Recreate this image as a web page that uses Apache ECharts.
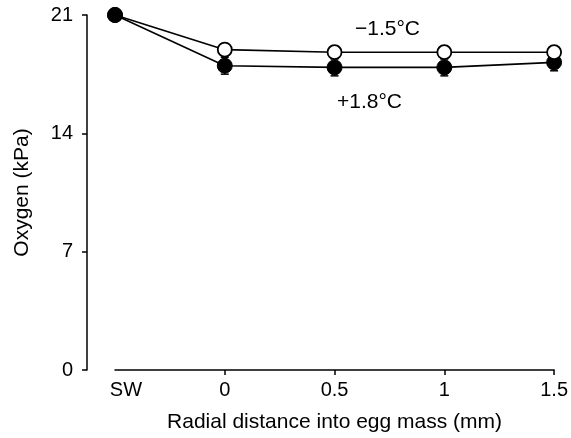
<!DOCTYPE html>
<html>
<head>
<meta charset="utf-8">
<script src="https://cdn.jsdelivr.net/npm/echarts@6/dist/echarts.min.js"></script>
<style>
  html, body { margin: 0; padding: 0; background: #fff; }
  #chart { width: 571px; height: 438px; }
</style>
</head>
<body>
<div id="chart"></div>
<script>
// positions along the radial axis (mm); SW (sea water) sits left of 0
var xPos = [-0.5, 0, 0.5, 1, 1.5];
// tick labels of the x axis (value, text)
var xTickValues = [-0.45, 0, 0.5, 1, 1.5];
var xTickText = ['SW', '0', '0.5', '1', '1.5'];

// oxygen (kPa)
var coldMean = [21.0, 18.95, 18.8, 18.8, 18.8];  // -1.5°C, open circles
var coldErr = [0.0, 0.35, 0.35, 0.35, 0.35];
var warmMean = [21.0, 18.0, 17.9, 17.9, 18.2];   // +1.8°C, filled circles
var warmErr = [0.0, 0.5, 0.5, 0.5, 0.5];

var font = 'Liberation Sans, Arial, sans-serif';
var chart = echarts.init(document.getElementById('chart'));

function pairs(means) {
  return means.map(function (m, i) { return [xPos[i], m]; });
}
function errBars(means, errs) {
  return means.map(function (m, i) { return [xPos[i], m - errs[i], m + errs[i]]; });
}
function renderErr(params, api) {
  var lo = api.coord([api.value(0), api.value(1)]);
  var hi = api.coord([api.value(0), api.value(2)]);
  var w = 4;
  var st = { stroke: '#000', lineWidth: 1.5 };
  return {
    type: 'group',
    children: [
      { type: 'line', shape: { x1: lo[0], y1: lo[1], x2: hi[0], y2: hi[1] }, style: st },
      { type: 'line', shape: { x1: lo[0] - w, y1: lo[1], x2: lo[0] + w, y2: lo[1] }, style: st },
      { type: 'line', shape: { x1: hi[0] - w, y1: hi[1], x2: hi[0] + w, y2: hi[1] }, style: st }
    ]
  };
}

var coldData = pairs(coldMean);
// at SW both readings coincide and the filled marker shows
coldData[0] = { value: coldData[0], itemStyle: { color: '#000' } };

var option = {
  backgroundColor: '#fff',
  animation: false,
  grid: { left: 115, right: 16, top: 15, bottom: 65 },
  xAxis: {
    type: 'value',
    min: -0.5,
    max: 1.5,
    interval: 0.5,
    name: 'Radial distance into egg mass (mm)',
    nameLocation: 'middle',
    nameGap: 42,
    nameTextStyle: { color: '#000', fontSize: 21, fontFamily: font },
    axisLine: { onZero: false, lineStyle: { color: '#000', width: 1.5 } },
    axisTick: { customValues: [0, 0.5, 1, 1.5], length: 5, lineStyle: { color: '#000', width: 1.5 } },
    axisLabel: {
      customValues: xTickValues,
      formatter: function (v) { return xTickText[xTickValues.indexOf(v)]; },
      color: '#000', fontSize: 20, fontFamily: font, margin: 10
    },
    splitLine: { show: false }
  },
  yAxis: {
    type: 'value',
    min: 0,
    max: 21,
    interval: 7,
    offset: 28,
    name: 'Oxygen (kPa)',
    nameLocation: 'middle',
    nameGap: 54,
    nameTextStyle: { color: '#000', fontSize: 21, fontFamily: font },
    axisLine: { show: true, onZero: false, lineStyle: { color: '#000', width: 1.5 } },
    axisTick: { show: true, length: 5, lineStyle: { color: '#000', width: 1.5 } },
    axisLabel: { color: '#000', fontSize: 20, fontFamily: font, margin: 14 },
    splitLine: { show: false }
  },
  graphic: [
    { type: 'text', left: 355, top: 19, style: { text: '\u22121.5\u00b0C', font: '21px ' + font, fill: '#000' } },
    { type: 'text', left: 337, top: 92, style: { text: '+1.8\u00b0C', font: '21px ' + font, fill: '#000' } }
  ],
  series: [
    {
      type: 'custom',
      data: errBars(warmMean, warmErr),
      renderItem: renderErr,
      clip: false,
      z: 1
    },
    {
      type: 'custom',
      data: errBars(coldMean, coldErr),
      renderItem: renderErr,
      clip: false,
      z: 1
    },
    {
      name: '+1.8\u00b0C',
      type: 'line',
      data: pairs(warmMean),
      symbol: 'circle',
      symbolSize: 15,
      showAllSymbol: true,
      clip: false,
      lineStyle: { color: '#000', width: 1.6 },
      itemStyle: { color: '#000', borderColor: '#000', borderWidth: 1 },
      z: 2
    },
    {
      name: '\u22121.5\u00b0C',
      type: 'line',
      data: coldData,
      symbol: 'circle',
      symbolSize: 14,
      showAllSymbol: true,
      clip: false,
      lineStyle: { color: '#000', width: 1.6 },
      itemStyle: { color: '#fff', borderColor: '#000', borderWidth: 1.8 },
      z: 3
    }
  ]
};
chart.setOption(option);
</script>
</body>
</html>
